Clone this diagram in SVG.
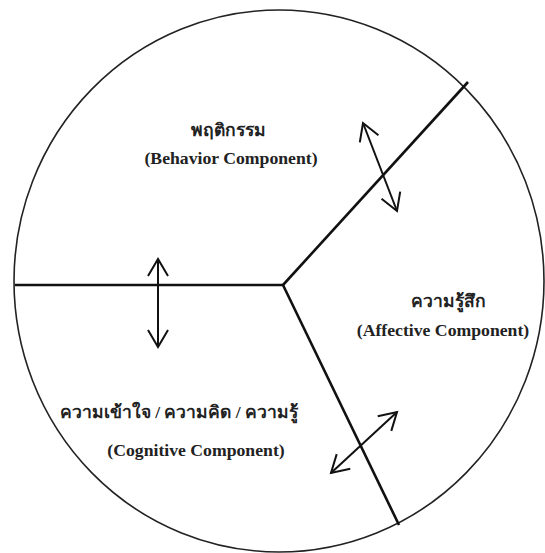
<svg xmlns="http://www.w3.org/2000/svg" width="545" height="553" viewBox="0 0 545 553">
<style>
.circle{fill:none;stroke:#222;stroke-width:1.6}
.div{stroke:#111;stroke-width:2.6;fill:none}
.arr{stroke:#111;stroke-width:2;fill:none;marker-start:url(#ah);marker-end:url(#ah)}
.th{font-family:"Liberation Serif","Noto Sans CJK SC",serif;font-size:17.5px;font-weight:bold;fill:#222;text-anchor:middle}
.en{font-family:"Liberation Serif",serif;font-weight:bold;font-size:17.7px;fill:#222;text-anchor:middle}
</style>
<defs>
<marker id="ah" markerUnits="userSpaceOnUse" viewBox="-19 -12 22 24" markerWidth="22" markerHeight="24" refX="0" refY="0" orient="auto-start-reverse">
<path d="M-17,-10 L0,0 L-17,10" fill="none" stroke="#111" stroke-width="2"/>
</marker>
</defs>
<rect width="545" height="553" fill="#fff"/>
<ellipse class="circle" cx="279" cy="281" rx="265" ry="271"/>
<g id="connectors">
<line class="div" x1="15" y1="285" x2="283" y2="285"/>
<line class="div" x1="283" y1="285" x2="468" y2="82"/>
<line class="div" x1="283" y1="285" x2="399" y2="525"/>
<line class="arr" x1="363" y1="123" x2="397" y2="211"/>
<line class="arr" x1="158" y1="259" x2="158" y2="347"/>
<line class="arr" x1="331" y1="473" x2="397" y2="412"/>
</g>
<g id="behavior">
<text class="th" x="228" y="136">พฤติกรรม</text>
<text class="en" x="231" y="164">(Behavior Component)</text>
</g>
<g id="affective">
<text class="th" x="448" y="307">ความรู้สึก</text>
<text class="en" x="443" y="336">(Affective Component)</text>
</g>
<g id="cognitive">
<text class="th" x="179" y="418">ความเข้าใจ / ความคิด / ความรู้</text>
<text class="en" x="196" y="456">(Cognitive Component)</text>
</g>
</svg>
